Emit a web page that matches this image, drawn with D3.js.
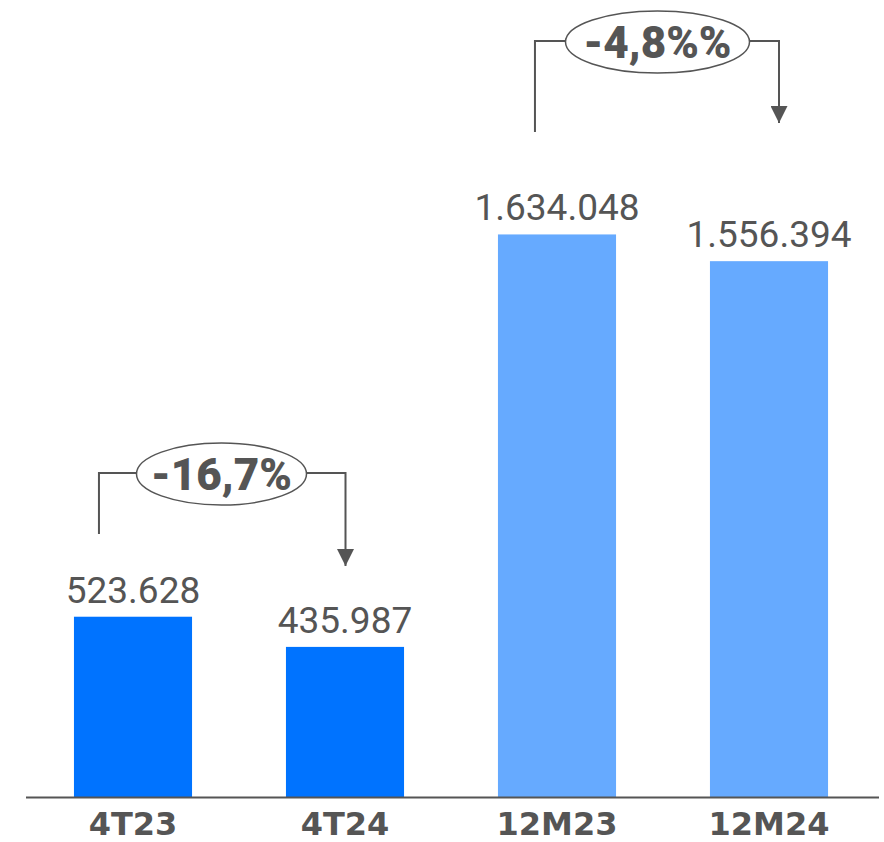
<!DOCTYPE html>
<html>
<head>
<meta charset="utf-8">
<script src="https://cdn.jsdelivr.net/npm/d3@7"></script>
<style>
  html, body { margin: 0; padding: 0; background: #ffffff; }
  svg { display: block; }
</style>
</head>
<body>
<svg id="chart" width="884" height="842"></svg>
<script>
// Periods and volumes
const categories = ["4T23", "4T24", "12M23", "12M24"];
const values = [523628, 435987, 1634048, 1556394];
const valueLabels = ["523.628", "435.987", "1.634.048", "1.556.394"];
const barColors = ["#0073FF", "#0073FF", "#66AAFF", "#66AAFF"];

// Period-over-period variations: [from index, to index, label]
const variations = [
  { from: 0, to: 1, label: "-16,7%" },
  { from: 2, to: 3, label: "-4,8%%" }
];

const W = 884, H = 842;
const baseY = 797;
const ink = "#555555";

const svg = d3.select("#chart");

const x = d3.scaleBand()
  .domain(categories)
  .range([27, 875])
  .paddingInner(0.443)
  .paddingOuter(0.2215);

const y = d3.scaleLinear()
  .domain([0, 2315000])
  .range([baseY, 0]);

// Bars
svg.append("g")
  .selectAll("rect")
  .data(values)
  .join("rect")
  .attr("x", (d, i) => x(categories[i]))
  .attr("y", d => y(d))
  .attr("width", x.bandwidth())
  .attr("height", d => baseY - y(d))
  .attr("fill", (d, i) => barColors[i]);

// Value labels above bars
svg.append("g")
  .selectAll("text")
  .data(values)
  .join("text")
  .attr("x", (d, i) => x(categories[i]) + x.bandwidth() / 2)
  .attr("y", d => y(d) - 14)
  .attr("text-anchor", "middle")
  .attr("font-family", "Roboto, sans-serif")
  .attr("font-size", 37)
  .attr("fill", ink)
  .text((d, i) => valueLabels[i]);

// Baseline axis with category labels
const axis = d3.axisBottom(x).tickSize(0).tickPadding(0);
const gx = svg.append("g")
  .attr("transform", `translate(0,${baseY})`)
  .call(axis);
gx.select(".domain").remove();
gx.selectAll("text")
  .attr("font-family", "'DejaVu Sans', sans-serif")
  .attr("font-weight", "bold")
  .attr("font-size", 32)
  .attr("fill", ink)
  .attr("y", 38)
  .attr("dy", 0);
svg.append("line")
  .attr("x1", 26).attr("x2", 879)
  .attr("y1", baseY + 0.5).attr("y2", baseY + 0.5)
  .attr("stroke", ink)
  .attr("stroke-width", 2);

// Arrowhead marker
svg.append("defs").append("marker")
  .attr("id", "arrow")
  .attr("viewBox", "0 0 10 10")
  .attr("refX", 10).attr("refY", 5)
  .attr("markerUnits", "userSpaceOnUse")
  .attr("markerWidth", 17).attr("markerHeight", 17)
  .attr("orient", "auto")
  .append("path")
  .attr("d", "M0,0 L10,5 L0,10 Z")
  .attr("fill", ink);

// Variation brackets: rise from the first bar, run across, drop onto the second
const brackets = [
  { leftX: x(categories[0]) + 25, rightX: x(categories[1]) + x.bandwidth() / 2 + 0.5,
    topY: 473, leftBottom: 534, arrowTip: 566, rx: 85, ry: 31, cx: 221.5, fs: 44 },
  { leftX: x(categories[2]) + 37, rightX: x(categories[3]) + x.bandwidth() / 2 + 10,
    topY: 41, leftBottom: 132, arrowTip: 123, rx: 92, ry: 31, cx: 657.5, fs: 44 }
];

brackets.forEach((b, k) => {
  const g = svg.append("g");
  g.append("path")
    .attr("d", `M${b.leftX},${b.leftBottom} V${b.topY} H${b.cx}`)
    .attr("fill", "none")
    .attr("stroke", ink)
    .attr("stroke-width", 2);
  g.append("path")
    .attr("d", `M${b.cx},${b.topY} H${b.rightX} V${b.arrowTip}`)
    .attr("fill", "none")
    .attr("stroke", ink)
    .attr("stroke-width", 2)
    .attr("marker-end", "url(#arrow)");
  g.append("ellipse")
    .attr("cx", b.cx).attr("cy", b.topY + 1)
    .attr("rx", b.rx).attr("ry", b.ry)
    .attr("fill", "#ffffff")
    .attr("stroke", ink)
    .attr("stroke-width", 1.5);
  g.append("text")
    .attr("x", b.cx).attr("y", b.topY + 1)
    .attr("dy", "0.36em")
    .attr("text-anchor", "middle")
    .attr("font-family", "Roboto, sans-serif")
    .attr("font-weight", 900)
    .attr("font-size", b.fs)
    .attr("fill", ink)
    .text(variations[k].label);
});
</script>
</body>
</html>
